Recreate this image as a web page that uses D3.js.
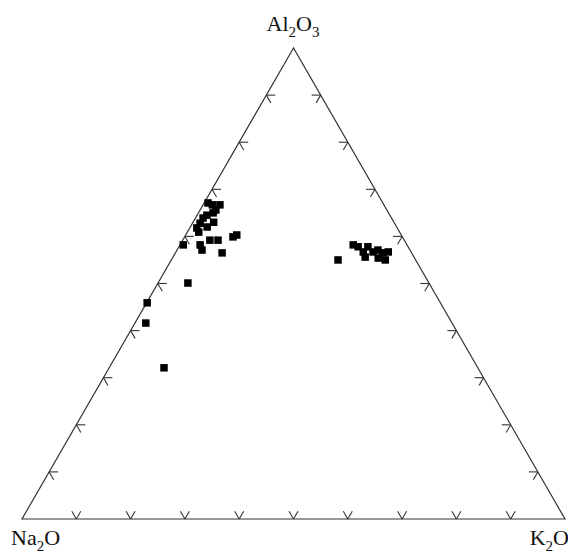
<!DOCTYPE html>
<head>
  <meta charset="UTF-8">
  <title>Al2O3 - Na2O - K2O ternary</title>
  <script src="https://d3js.org/d3.v7.min.js"></script>
  <style>
    body { margin: 0; background: #fff; }
    text { font-family: "Liberation Serif", "DejaVu Serif", serif; fill: #111; }
  </style>
</head>
<body>
<svg id="plot"></svg>
<script>
    // ternary components, wt% normalised
    const al2o3 = [67.1, 66.7, 65.0, 63.9, 62.8, 61.8, 62.0, 59.2, 59.2, 60.3, 58.2, 58.2,
                   57.1, 56.5, 64.5, 65.6, 60.9, 63.0, 59.9, 66.7, 50.1, 45.9, 41.6, 32.1,
                   58.2, 57.8, 56.7, 57.8, 56.7, 57.1, 56.5, 56.7, 55.0, 55.4, 55.6, 55.0];
    const na2o  = [32.2, 30.2, 32.3, 34.7, 35.8, 36.9, 34.9, 35.8, 34.3, 30.3, 41.2, 38.1,
                   38.3, 34.9, 33.7, 31.5, 37.0, 33.2, 31.2, 31.6, 44.4, 54.0, 56.4, 57.8,
                   9.9, 9.2, 8.8, 7.4, 7.0, 5.9, 5.3, 4.2, 5.6, 6.7, 9.0, 14.3];
    const k2o   = [0.7, 3.1, 2.7, 1.4, 1.4, 1.3, 3.1, 5.0, 6.5, 9.4, 0.6, 3.7,
                   4.6, 8.6, 1.8, 2.9, 2.1, 3.8, 8.9, 1.7, 5.5, 0.1, 2.0, 10.1,
                   31.9, 33.0, 34.5, 34.8, 36.3, 37.0, 38.2, 39.1, 39.4, 37.9, 35.4, 30.7];
    const tickValues = [0.1, 0.2, 0.3, 0.4, 0.5, 0.6, 0.7, 0.8, 0.9];

    const width = 568, height = 554;
    const svg = d3.select("#plot").attr("width", width).attr("height", height);

    // cartesian projection of the triangle
    const x = d3.scaleLinear().domain([0, 1]).range([22, 565]);
    const y = d3.scaleLinear().domain([0, 1]).range([519, 48]);

    // a = Al2O3 fraction (top), k = K2O fraction (right)
    function proj(a, k) {
        return [x(k + a / 2), y(a)];
    }

    const apex = proj(1, 0), cornerL = proj(0, 0), cornerR = proj(0, 1);

    svg.append("path")
        .attr("d", "M" + apex + "L" + cornerL + "L" + cornerR + "Z")
        .attr("fill", "none")
        .attr("stroke", "#333")
        .attr("stroke-width", 1.2);

    // tick marks: two short arms parallel to the other two sides
    const len = 9;
    const c = Math.cos(Math.PI / 3), s = Math.sin(Math.PI / 3);
    const ticks = [];
    tickValues.forEach(t => {
        // bottom edge
        let p = proj(0, t);
        ticks.push([p, [p[0] - len * c, p[1] - len * s]]);
        ticks.push([p, [p[0] + len * c, p[1] - len * s]]);
        // left edge
        p = proj(t, 0);
        ticks.push([p, [p[0] + len, p[1]]]);
        ticks.push([p, [p[0] + len * c, p[1] + len * s]]);
        // right edge
        p = proj(t, 1 - t);
        ticks.push([p, [p[0] - len, p[1]]]);
        ticks.push([p, [p[0] - len * c, p[1] + len * s]]);
    });

    svg.append("g")
        .selectAll("line")
        .data(ticks)
        .enter()
        .append("line")
          .attr("x1", d => d[0][0]).attr("y1", d => d[0][1])
          .attr("x2", d => d[1][0]).attr("y2", d => d[1][1])
          .attr("stroke", "#333")
          .attr("stroke-width", 1.1);

    // samples
    const pts = al2o3.map((a, i) => {
        const sum = a + na2o[i] + k2o[i];
        return proj(a / sum, k2o[i] / sum);
    });
    const sz = 7.5;
    svg.append("g")
        .selectAll("rect")
        .data(pts)
        .enter()
        .append("rect")
          .attr("x", d => d[0] - sz / 2)
          .attr("y", d => d[1] - sz / 2)
          .attr("width", sz)
          .attr("height", sz)
          .attr("fill", "#000");

    // vertex labels with subscripts
    function label(parts, px, py, anchor) {
        const t = svg.append("text")
            .attr("x", px).attr("y", py)
            .attr("text-anchor", anchor)
            .style("font-size", "22px");
        parts.forEach(pt => {
            if (pt.sub) {
                t.append("tspan").attr("dy", 6).style("font-size", "15px").text(pt.s);
            } else {
                t.append("tspan").attr("dy", pt.after ? -6 : 0).text(pt.s);
            }
        });
    }
    label([{s: "Al"}, {s: "2", sub: true}, {s: "O", after: true}, {s: "3", sub: true}], 293, 31, "middle");
    label([{s: "Na"}, {s: "2", sub: true}, {s: "O", after: true}], 11, 545, "start");
    label([{s: "K"}, {s: "2", sub: true}, {s: "O", after: true}], 569, 545, "end");
</script>
</body>
